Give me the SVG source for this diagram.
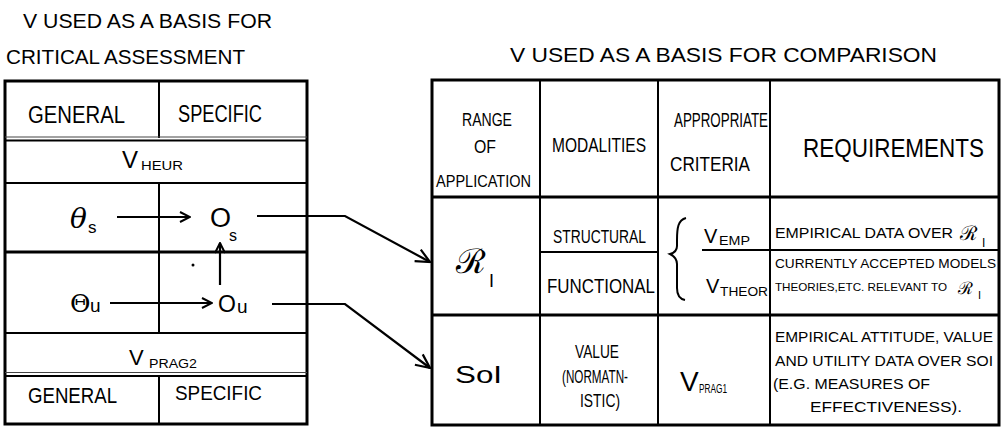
<svg xmlns="http://www.w3.org/2000/svg" width="1005" height="427" viewBox="0 0 1005 427">
  <defs>
    <style>
      .t { font-family: "Liberation Sans", "DejaVu Sans", sans-serif; fill: #000; }
      .sym { font-family: "DejaVu Serif", "Liberation Serif", serif; fill: #000; }
      .frame { fill: none; stroke: #000; stroke-width: 3; }
      .ln { stroke: #000; stroke-width: 2; fill: none; }
      .thick { stroke: #000; stroke-width: 3.2; fill: none; }
      .thin { stroke: #444; stroke-width: 1; fill: none; }
      .conn { stroke: #000; stroke-width: 2.2; fill: none; }
    </style>
    <marker id="open" viewBox="0 0 12 12" refX="11" refY="6" markerWidth="12" markerHeight="12" markerUnits="userSpaceOnUse" orient="auto">
      <path d="M1,1 L11,6 L1,11" fill="none" stroke="#000" stroke-width="2"/>
    </marker>
    <marker id="openL" viewBox="0 0 16 16" refX="15" refY="8" markerWidth="16" markerHeight="16" markerUnits="userSpaceOnUse" orient="auto">
      <path d="M1,1.5 L15,8 L1,14.5" fill="none" stroke="#000" stroke-width="2.2"/>
    </marker>
  </defs>
  <rect width="1005" height="427" fill="#fff"/>

  <!-- left heading -->
  <g id="title-critical">
    <text class="t" x="23" y="28" font-size="20" textLength="249" lengthAdjust="spacingAndGlyphs">V USED AS A BASIS  FOR</text>
    <text class="t" x="6" y="64" font-size="20" textLength="239" lengthAdjust="spacingAndGlyphs">CRITICAL  ASSESSMENT</text>
  </g>

  <!-- left table: critical assessment -->
  <g id="assessment-table">
    <rect class="frame" x="5" y="81" width="302" height="343"/>
    <line class="ln" x1="159" y1="81" x2="159" y2="138"/>
    <line class="thin" x1="5" y1="137" x2="307" y2="137"/>
    <line class="ln" x1="5" y1="140.5" x2="307" y2="140.5"/>
    <line class="ln" x1="5" y1="183" x2="307" y2="183"/>
    <line class="ln" x1="159" y1="183" x2="159" y2="333"/>
    <line class="thick" x1="5" y1="252" x2="307" y2="252"/>
    <line class="ln" x1="5" y1="333" x2="307" y2="333"/>
    <line class="thin" x1="5" y1="372.5" x2="307" y2="372.5"/>
    <line class="ln" x1="5" y1="376" x2="307" y2="376"/>
    <line class="ln" x1="159" y1="376" x2="159" y2="424"/>
  </g>
  <g id="general-top">
    <text class="t" x="28" y="123" font-size="23" textLength="97" lengthAdjust="spacingAndGlyphs">GENERAL</text>
  </g>
  <g id="specific-top">
    <text class="t" x="178" y="122" font-size="23" textLength="84" lengthAdjust="spacingAndGlyphs">SPECIFIC</text>
  </g>
  <g id="v-heur">
    <text class="t" x="122" y="168" font-size="24">V</text>
    <text class="t" x="141" y="170" font-size="13" textLength="42" lengthAdjust="spacingAndGlyphs">HEUR</text>
  </g>
  <g id="theta-s">
    <text class="sym" x="70" y="228" font-size="28" font-style="italic">θ</text>
    <text class="t" x="88" y="233" font-size="17">s</text>
  </g>
  <g id="o-s">
    <text class="t" x="210" y="227" font-size="27">O</text>
    <text class="t" x="229" y="241" font-size="16">s</text>
  </g>
  <g id="theta-u">
    <text class="sym" x="70" y="312" font-size="25">Θ</text>
    <text class="t" x="90" y="312" font-size="19">u</text>
  </g>
  <g id="o-u">
    <text class="t" x="218" y="312" font-size="23">O</text>
    <text class="t" x="237" y="313" font-size="19">u</text>
  </g>
  <g id="v-prag2">
    <text class="t" x="129" y="365" font-size="22">V</text>
    <text class="t" x="149" y="368" font-size="12" textLength="48" lengthAdjust="spacingAndGlyphs">PRAG2</text>
  </g>
  <g id="general-bottom">
    <text class="t" x="28" y="403" font-size="22" textLength="89" lengthAdjust="spacingAndGlyphs">GENERAL</text>
  </g>
  <g id="specific-bottom">
    <text class="t" x="175" y="400" font-size="21" textLength="87" lengthAdjust="spacingAndGlyphs">SPECIFIC</text>
  </g>

  <!-- right heading -->
  <g id="title-comparison">
    <text class="t" x="510" y="62" font-size="21" textLength="427" lengthAdjust="spacingAndGlyphs">V USED AS A  BASIS  FOR  COMPARISON</text>
  </g>

  <!-- right table: comparison -->
  <g id="comparison-table">
    <rect class="frame" x="432" y="80" width="567" height="345"/>
    <line class="ln" x1="540" y1="80" x2="540" y2="425"/>
    <line class="ln" x1="658" y1="80" x2="658" y2="425"/>
    <line class="ln" x1="770" y1="80" x2="770" y2="425"/>
    <line class="thick" x1="432" y1="197" x2="999" y2="197"/>
    <line class="thick" x1="432" y1="315" x2="999" y2="315"/>
    <line class="ln" x1="540" y1="252" x2="658" y2="252"/>
    <line class="ln" x1="702" y1="250" x2="999" y2="250"/>
  </g>
  <g id="hdr-range">
    <text class="t" x="462" y="126" font-size="18" textLength="50" lengthAdjust="spacingAndGlyphs">RANGE</text>
    <text class="t" x="474" y="153" font-size="18" textLength="22" lengthAdjust="spacingAndGlyphs">OF</text>
    <text class="t" x="436" y="187" font-size="17" textLength="95" lengthAdjust="spacingAndGlyphs">APPLICATION</text>
  </g>
  <g id="hdr-modalities">
    <text class="t" x="552" y="152" font-size="21" textLength="94" lengthAdjust="spacingAndGlyphs">MODALITIES</text>
  </g>
  <g id="hdr-criteria">
    <text class="t" x="674" y="127" font-size="20" textLength="94" lengthAdjust="spacingAndGlyphs">APPROPRIATE</text>
    <text class="t" x="670" y="171" font-size="20" textLength="80" lengthAdjust="spacingAndGlyphs">CRITERIA</text>
  </g>
  <g id="hdr-requirements">
    <text class="t" x="803" y="157" font-size="25" textLength="181" lengthAdjust="spacingAndGlyphs">REQUIREMENTS</text>
  </g>

  <g id="range-ri">
    <text class="sym" x="456" y="273" font-size="34">ℛ</text>
    <text class="t" x="489" y="287" font-size="18">I</text>
  </g>
  <g id="mod-structural">
    <text class="t" x="553" y="243" font-size="19" textLength="93" lengthAdjust="spacingAndGlyphs">STRUCTURAL</text>
  </g>
  <g id="mod-functional">
    <text class="t" x="547" y="293" font-size="20" textLength="108" lengthAdjust="spacingAndGlyphs">FUNCTIONAL</text>
  </g>
  <g id="crit-brace">
    <path class="ln" d="M686,218 C678,220 677,228 677,240 L677,246 C677,251 674,253 670,254 C674,256 677,259 677,264 L677,288 C677,295 680,299 685,300"/>
  </g>
  <g id="v-emp">
    <text class="t" x="704" y="243" font-size="20">V</text>
    <text class="t" x="719" y="245" font-size="12" textLength="31" lengthAdjust="spacingAndGlyphs">EMP</text>
  </g>
  <g id="v-theor">
    <text class="t" x="706" y="293" font-size="20">V</text>
    <text class="t" x="720" y="296" font-size="12" textLength="48" lengthAdjust="spacingAndGlyphs">THEOR</text>
  </g>
  <g id="req-empirical">
    <text class="t" x="775" y="238" font-size="14" textLength="178" lengthAdjust="spacingAndGlyphs">EMPIRICAL  DATA OVER</text>
    <text class="sym" x="960" y="240" font-size="20">ℛ</text>
    <text class="t" x="982" y="247" font-size="12">I</text>
  </g>
  <g id="req-theoretical">
    <text class="t" x="775" y="268" font-size="13" textLength="221" lengthAdjust="spacingAndGlyphs">CURRENTLY ACCEPTED MODELS</text>
    <text class="t" x="775" y="291" font-size="11.5" textLength="172" lengthAdjust="spacingAndGlyphs">THEORIES,ETC. RELEVANT TO</text>
    <text class="sym" x="958" y="294" font-size="17">ℛ</text>
    <text class="t" x="978" y="299" font-size="11">I</text>
  </g>

  <g id="range-soi">
    <text class="t" x="455" y="383" font-size="24" textLength="47" lengthAdjust="spacingAndGlyphs">SoI</text>
  </g>
  <g id="mod-value">
    <text class="t" x="575" y="358" font-size="18" textLength="44" lengthAdjust="spacingAndGlyphs">VALUE</text>
    <text class="t" x="562" y="383" font-size="18" textLength="66" lengthAdjust="spacingAndGlyphs">(NORMATN-</text>
    <text class="t" x="580" y="407" font-size="18" textLength="40" lengthAdjust="spacingAndGlyphs">ISTIC)</text>
  </g>
  <g id="v-prag1">
    <text class="t" x="680" y="391" font-size="28">V</text>
    <text class="t" x="699" y="393" font-size="12" textLength="28" lengthAdjust="spacingAndGlyphs">PRAG1</text>
  </g>
  <g id="req-pragmatic">
    <text class="t" x="775" y="342" font-size="14" textLength="218" lengthAdjust="spacingAndGlyphs">EMPIRICAL ATTITUDE, VALUE</text>
    <text class="t" x="775" y="366" font-size="14" textLength="218" lengthAdjust="spacingAndGlyphs">AND UTILITY DATA OVER SOI</text>
    <text class="t" x="773" y="389" font-size="14" textLength="157" lengthAdjust="spacingAndGlyphs">(E.G. MEASURES OF</text>
    <text class="t" x="810" y="412" font-size="14" textLength="152" lengthAdjust="spacingAndGlyphs">EFFECTIVENESS).</text>
  </g>

  <!-- connectors -->
  <g id="connectors">
    <line class="conn" x1="117" y1="217" x2="190" y2="217" marker-end="url(#open)"/>
    <line class="conn" x1="110" y1="303" x2="212" y2="303" marker-end="url(#open)"/>
    <line class="conn" x1="220" y1="285" x2="220" y2="243" marker-end="url(#open)"/>
    <circle cx="193" cy="265" r="1.5" fill="#000"/>
    <polyline class="conn" points="257,216 345,216 430,262" marker-end="url(#openL)"/>
    <polyline class="conn" points="272,304 345,304 430,368" marker-end="url(#openL)"/>
  </g>
</svg>
